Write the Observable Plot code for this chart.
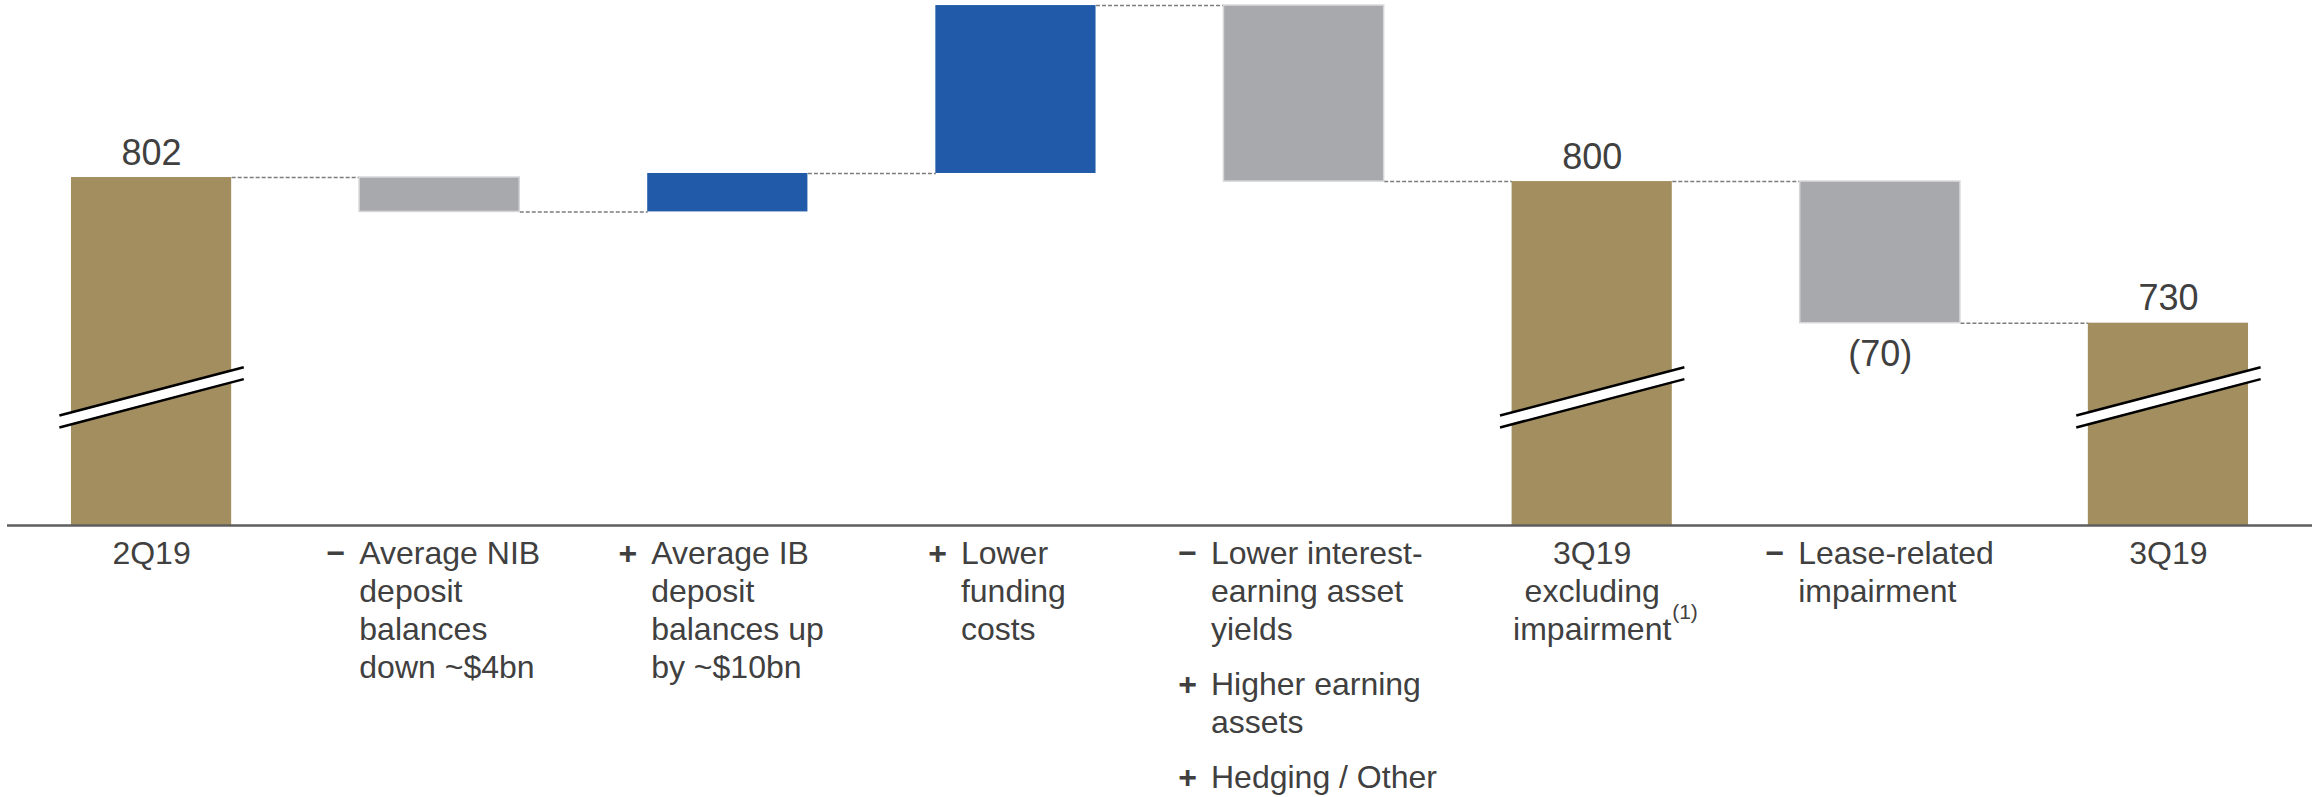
<!DOCTYPE html>
<html>
<head>
<meta charset="utf-8">
<script src="https://cdn.jsdelivr.net/npm/d3@7"></script>
<script src="https://cdn.jsdelivr.net/npm/@observablehq/plot@0.6"></script>
<style>
  html, body { margin: 0; padding: 0; background: #ffffff; }
  #chart svg { display: block; }
</style>
</head>
<body>
<div id="chart"></div>
<script>
// ---------------- data ----------------
const categories = [
  "2Q19",
  "Average NIB deposit balances down ~$4bn",
  "Average IB deposit balances up by ~$10bn",
  "Lower funding costs",
  "Lower interest-earning asset yields",
  "3Q19 excluding impairment",
  "Lease-related impairment",
  "3Q19"
];
const kinds = ["total", "delta", "delta", "delta", "delta", "total", "delta", "total"];
const values = [802, -17, 19, 83, -87, 800, -70, 730];
const valueLabels = ["802", "", "", "", "", "800", "(70)", "730"];

// category labels (one entry per bullet / label block)
const labelCats  = [0, 1, 2, 3, 4, 4, 4, 5, 6, 7];
const labelSigns = ["", "\u2212", "+", "+", "\u2212", "+", "+", "", "\u2212", ""];
const labelTexts = [
  ["2Q19"],
  ["Average NIB", "deposit", "balances", "down ~$4bn"],
  ["Average IB", "deposit", "balances up", "by ~$10bn"],
  ["Lower", "funding", "costs"],
  ["Lower interest-", "earning asset", "yields"],
  ["Higher earning", "assets"],
  ["Hedging / Other"],
  ["3Q19", "excluding", "impairment"],
  ["Lease-related", "impairment"],
  ["3Q19"]
];
const footnoteCat = 5;
const footnoteText = "(1)";

// ---------------- layout / style ----------------
const AXIS_MIN = 630;          // truncated value axis (bars carry break marks)
const AXIS_MAX = 889.5;
const HALF = 0.278;            // half bar width, in category units
const BREAK_LEVEL = [681.4, 705.3]; // break mark (left, right) levels
const BREAK_HALF = 0.32;
const BREAK_GAP = 2.95;
const labelIndent = [0, -0.279, -0.266, -0.191, -0.323, -0.323, -0.323, 0, -0.285, 0];
const LINE_H = 38.3, BLOCK_GAP = 16.5, FIRST_BASE = 38;
const GOLD = "#A38E5F", BLUE = "#215AA8", GREY = "#A8A9AD", TEXT = "#404040";

// ---------------- waterfall ----------------
let run = 0;
const steps = categories.map((c, i) => {
  let y1, y2;
  if (kinds[i] === "total") { y1 = AXIS_MIN; y2 = values[i]; run = values[i]; }
  else { y1 = run; y2 = run + values[i]; run = y2; }
  return {i, cat: c, kind: kinds[i], value: values[i], y1, y2, end: run, label: valueLabels[i],
          fill: kinds[i] === "total" ? GOLD : values[i] > 0 ? BLUE : GREY};
});
const connectors = steps.slice(0, -1).map(d => ({x1: d.i + HALF, x2: d.i + 1 - HALF, y: d.end}));
const totals = steps.filter(d => d.kind === "total");

// label rows (one per text line)
const rows = [];
labelTexts.forEach((lines, g) => {
  const prev = labelCats.slice(0, g).map((c, k) => c === labelCats[g] ? k : -1).filter(k => k >= 0);
  const block = prev.length;
  const lineStart = d3.sum(prev, k => labelTexts[k].length);
  lines.forEach((t, j) => rows.push({
    g, i: labelCats[g], text: t, first: j === 0,
    bullet: labelSigns[g] !== "", sign: labelSigns[g],
    off: FIRST_BASE + (lineStart + j) * LINE_H + block * BLOCK_GAP
  }));
});
const offsets = [...new Set(rows.map(r => r.off))];
const labelMarks = offsets.flatMap(o => {
  const rs = rows.filter(r => r.off === o);
  const common = {frameAnchor: "bottom", lineAnchor: "bottom", dy: o, fontSize: 32, fill: TEXT};
  return [
    Plot.text(rs.filter(r => !r.bullet), {...common, x: "i", text: "text", textAnchor: "middle"}),
    Plot.text(rs.filter(r => r.bullet), {...common, x: r => r.i + labelIndent[r.g], text: "text", textAnchor: "start"}),
    Plot.text(rs.filter(r => r.bullet && r.first), {...common, x: r => r.i + labelIndent[r.g], text: "sign", textAnchor: "end", dx: -14, fontWeight: "bold"})
  ];
});

const chart = Plot.plot({
  width: 2312,
  height: 797,
  marginLeft: 7,
  marginRight: 0,
  marginTop: 0,
  marginBottom: 272,
  style: {fontFamily: "'Liberation Sans', Arial, sans-serif", fontSize: "32px", background: "#ffffff", color: TEXT},
  x: {domain: [-0.5, categories.length - 0.5], axis: null},
  y: {domain: [AXIS_MIN, AXIS_MAX], axis: null},
  marks: [
    Plot.link(connectors, {x1: "x1", x2: "x2", y1: "y", y2: "y", stroke: "#7c7c7c", strokeWidth: 1.5, strokeDasharray: "4,2"}),
    Plot.rect(steps, {x1: d => d.i - HALF, x2: d => d.i + HALF, y1: "y1", y2: "y2", fill: "fill"}),
    Plot.rect(steps.filter(d => d.fill === GREY), {x1: d => d.i - HALF, x2: d => d.i + HALF, y1: "y1", y2: "y2", fill: "none", stroke: "#d6d6d8", strokeWidth: 1.5}),
    // axis break marks on truncated total bars
    Plot.link(totals, {x1: d => d.i - BREAK_HALF, x2: d => d.i + BREAK_HALF, y1: BREAK_LEVEL[0], y2: BREAK_LEVEL[1], stroke: "#ffffff", strokeWidth: 10}),
    Plot.link(totals, {x1: d => d.i - BREAK_HALF, x2: d => d.i + BREAK_HALF, y1: () => BREAK_LEVEL[0] + BREAK_GAP, y2: () => BREAK_LEVEL[1] + BREAK_GAP, stroke: "#000000", strokeWidth: 2.5}),
    Plot.link(totals, {x1: d => d.i - BREAK_HALF, x2: d => d.i + BREAK_HALF, y1: () => BREAK_LEVEL[0] - BREAK_GAP, y2: () => BREAK_LEVEL[1] - BREAK_GAP, stroke: "#000000", strokeWidth: 2.5}),
    Plot.ruleY([AXIS_MIN], {stroke: "#5e5e5e", strokeWidth: 2.5}),
    // value labels
    Plot.text(totals, {x: "i", y: "y2", text: "label", lineAnchor: "bottom", dy: -13, fontSize: 36, fill: TEXT}),
    Plot.text(steps.filter(d => d.kind === "delta" && d.label), {x: "i", y: "y2", text: "label", lineAnchor: "top", dy: 17, fontSize: 36, fill: TEXT}),
    ...labelMarks,
    Plot.text([footnoteCat], {x: d => d, text: () => footnoteText, frameAnchor: "bottom", lineAnchor: "bottom", dy: 93, dx: 80, textAnchor: "start", fontSize: 21, fill: TEXT})
  ]
});
document.getElementById("chart").appendChild(chart);
</script>
</body>
</html>
